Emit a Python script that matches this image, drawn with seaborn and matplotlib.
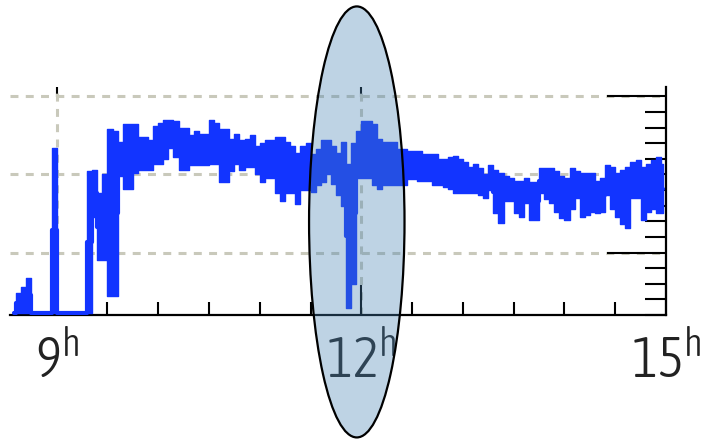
import numpy as np
import pandas as pd
import matplotlib
matplotlib.use("Agg")
import matplotlib.pyplot as plt
from matplotlib import font_manager as fm
from matplotlib.patches import Ellipse
from matplotlib.ticker import MultipleLocator
import seaborn as sns

# ---- data: 3-minute bins, min / max of the signal in each bin ----
start_hour, bin_hours, n_bins = 8.575, 0.05, 129
hours = np.round(start_hour + bin_hours * np.arange(n_bins), 3)

flux_max = [
    0.15, 1.4, 1.8, 2.4, 0.15, 0.15, 0.15, 0.15, 10.7, 0.15,
    0.15, 0.15, 0.15, 0.15, 0.15, 9.2, 9.3, 7.8, 9.0, 11.9,
    11.8, 11.1, 12.2, 12.2, 12.2, 11.4, 11.4, 11.2, 12.1, 12.3,
    12.5, 12.5, 12.4, 12.0, 12.0, 11.5, 11.8, 11.6, 11.6, 12.5,
    12.3, 11.9, 11.9, 11.3, 11.6, 11.2, 11.3, 11.5, 10.8, 11.0,
    11.2, 11.2, 11.4, 11.4, 11.1, 10.8, 10.4, 10.8, 11.0, 10.3,
    10.6, 11.2, 11.2, 10.8, 10.4, 11.1, 9.7, 11.0, 11.8, 12.4,
    12.4, 12.2, 11.3, 11.1, 11.1, 11.1, 10.6, 10.6, 10.5, 10.5,
    10.5, 10.3, 10.3, 10.3, 10.0, 10.0, 10.1, 10.2, 10.0, 9.8,
    9.5, 9.7, 9.4, 9.0, 9.6, 9.3, 9.1, 8.9, 8.8, 8.6,
    8.6, 8.8, 8.5, 8.5, 9.4, 9.4, 9.4, 9.2, 8.9, 8.8,
    9.4, 9.2, 9.1, 9.1, 9.1, 8.6, 8.8, 9.6, 9.5, 9.1,
    9.3, 9.5, 9.8, 9.9, 9.5, 9.7, 9.9, 10.1, 9.7,
]
flux_min = [
    0.15, 0.15, 0.15, 0.15, 0.15, 0.15, 0.15, 0.15, 0.15, 0.15,
    0.15, 0.15, 0.15, 0.15, 0.15, 0.15, 6.3, 3.5, 3.5, 1.2,
    1.2, 8.9, 8.1, 8.1, 9.1, 9.3, 9.3, 9.3, 9.7, 9.7,
    10.0, 10.7, 10.1, 9.3, 9.3, 9.6, 9.6, 9.6, 9.6, 9.7,
    9.7, 8.5, 8.5, 9.2, 9.7, 9.3, 9.5, 9.5, 9.0, 8.5,
    8.8, 8.8, 7.8, 7.3, 7.8, 7.8, 7.1, 8.0, 8.0, 7.9,
    8.3, 8.5, 9.0, 8.4, 7.7, 7.0, 0.45, 2.0, 8.8, 8.8,
    8.8, 8.3, 8.1, 8.3, 8.3, 8.3, 8.3, 8.3, 8.7, 8.7,
    8.6, 8.6, 8.6, 8.3, 8.3, 8.2, 8.1, 7.8, 7.8, 7.8,
    7.8, 7.8, 7.7, 7.5, 8.0, 6.5, 5.9, 7.3, 7.3, 6.5,
    6.3, 7.2, 6.1, 6.1, 7.8, 7.4, 7.2, 6.6, 6.2, 6.1,
    6.8, 7.5, 6.3, 6.4, 6.6, 6.5, 6.6, 7.7, 6.8, 6.3,
    5.8, 5.6, 7.5, 7.5, 6.1, 6.6, 6.8, 6.5, 6.5,
]

hour_ticks = [9, 12, 15]
hour_labels = [r"$\mathregular{9^h}$", r"$\mathregular{12^h}$", r"$\mathregular{15^h}$"]
grid_hours = [9, 12]
grid_levels = [4, 9, 14]
major_levels = [4, 14]

# highlighted interval around noon (centre hour, centre level, width in hours, height)
highlight = dict(hour=11.955, level=5.96, width=0.94, height=27.6)

BLUE = "#1234ff"
GRID = "#c9c9bb"

sns.set_theme(style="ticks")


def _weight_num(w):
    table = {"thin": 100, "extralight": 200, "ultralight": 200, "light": 300,
             "normal": 400, "regular": 400, "book": 400, "medium": 500}
    return w if isinstance(w, int) else table.get(str(w).lower(), 700)


# prefer a narrow, light sans face for the hour labels if one is installed
_narrow = [f for f in fm.fontManager.ttflist
           if ("Narrow" in f.name or "Condensed" in f.name) and f.style == "normal"
           and 250 <= _weight_num(f.weight) <= 400]
if _narrow:
    _narrow.sort(key=lambda f: abs(_weight_num(f.weight) - 300))
    label_family = _narrow[0].name
    label_weight = _weight_num(_narrow[0].weight)
    label_size = 40
else:
    label_family, label_weight, label_size = "DejaVu Sans", 400, 33
plt.rcParams["font.family"] = [label_family, "DejaVu Sans"]
plt.rcParams["font.weight"] = label_weight

df = pd.DataFrame({
    "hour": np.concatenate([hours, hours]),
    "flux": np.concatenate([flux_min, flux_max]),
})

fig = plt.figure(figsize=(7.06, 4.40), dpi=100)
ax = fig.add_axes([10 / 706, 1 - 315 / 440, 656 / 706, 228 / 440])

sns.lineplot(
    data=df, x="hour", y="flux", estimator="mean", errorbar=("pi", 100),
    color=BLUE, lw=3.0, drawstyle="steps-mid",
    err_kws=dict(alpha=1, step="mid", lw=1.0, edgecolor=BLUE),
    ax=ax, zorder=2,
)

for h in grid_hours:
    ax.axvline(h, color=GRID, lw=2.2, ls=(0, (2.6, 2.4)), zorder=0.3)
for lv in grid_levels:
    ax.axhline(lv, color=GRID, lw=2.2, ls=(0, (2.6, 2.4)), zorder=0.3)

ax.add_patch(Ellipse(
    (highlight["hour"], highlight["level"]), highlight["width"], highlight["height"],
    facecolor=(70 / 255, 130 / 255, 180 / 255, 0.35), edgecolor="black",
    lw=1.6, clip_on=False, zorder=6,
))

ax.set_xlim(8.54, 15.0)
ax.set_ylim(0, 14.6)
ax.set_xlabel("")
ax.set_ylabel("")
ax.set_axisbelow(True)

for side in ("left", "top"):
    ax.spines[side].set_visible(False)
for side in ("bottom", "right"):
    ax.spines[side].set_color("black")
    ax.spines[side].set_linewidth(1.6)
ax.spines["bottom"].set_zorder(0.5)

# bottom hour axis
ax.set_xticks(hour_ticks, hour_labels)
ax.xaxis.set_minor_locator(MultipleLocator(0.5))
ax.tick_params(axis="x", which="major", direction="in", length=21.6, width=1.5,
               color="black", labelsize=label_size, labelcolor="#222222", pad=14,
               bottom=True, top=False)
ax.tick_params(axis="x", which="minor", direction="in", length=9.4, width=1.5,
               color="black", bottom=True, top=False)
for lab in ax.get_xticklabels():
    lab.set_fontweight(label_weight)

# short hour marks along the top edge
sec = ax.secondary_xaxis("top")
sec.set_xticks(grid_hours, ["", ""])
sec.tick_params(direction="in", length=7.2, width=1.5, color="black")
sec.spines["top"].set_visible(False)

# right-hand level scale
ax.yaxis.tick_right()
ax.set_yticks(major_levels)
ax.yaxis.set_minor_locator(MultipleLocator(1))
ax.tick_params(axis="y", which="major", direction="in", length=42.5, width=1.5,
               color="black", left=False, right=True, labelright=False, labelleft=False)
ax.tick_params(axis="y", which="minor", direction="in", length=15, width=1.5,
               color="black", left=False, right=True)

fig.savefig("out.png", dpi=100)
